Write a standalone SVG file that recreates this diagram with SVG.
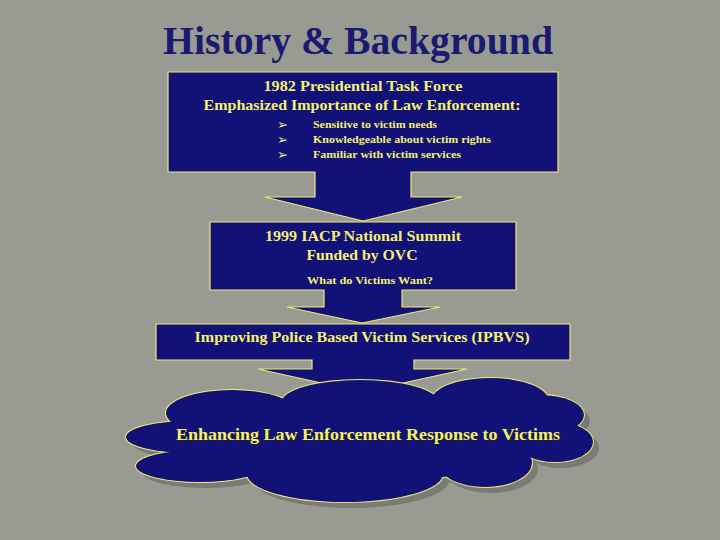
<svg xmlns="http://www.w3.org/2000/svg" width="720" height="540" viewBox="0 0 720 540">
<style>
.bg{fill:#999b93}
.box{fill:#111177;stroke:#f0ea70;stroke-width:1.2;stroke-linejoin:miter}
.t{font-family:"Liberation Serif","Times New Roman",serif;font-weight:bold;fill:#f5f070;text-anchor:middle}
.tl{font-family:"Liberation Serif","Times New Roman",serif;font-weight:bold;fill:#f5f070}
.bul{font-family:"DejaVu Sans",sans-serif;fill:#f5f070;font-size:13px}
.title{font-family:"Liberation Serif","Times New Roman",serif;font-weight:bold;fill:#1a1a70;font-size:40px;text-anchor:middle}
.lobeS{fill:#7a7b75}
.lobeO{fill:#111177;stroke:#f0ea70;stroke-width:2}
.lobeF{fill:#111177}
</style>
<defs>
<g id="lobes">
<ellipse cx="232" cy="413" rx="66" ry="23"/>
<ellipse cx="360" cy="402" rx="78" ry="22"/>
<ellipse cx="490" cy="400" rx="58" ry="22"/>
<ellipse cx="540" cy="415" rx="44" ry="20"/>
<ellipse cx="555" cy="442" rx="38" ry="20"/>
<ellipse cx="485" cy="463" rx="47" ry="24"/>
<ellipse cx="345" cy="474" rx="98" ry="28"/>
<ellipse cx="200" cy="466" rx="64" ry="16"/>
<ellipse cx="190" cy="437" rx="64" ry="16"/>
<ellipse cx="360" cy="440" rx="175" ry="42"/>
</g>
</defs>
<rect class="bg" x="0" y="0" width="720" height="540"/>
<g id="title">
<text class="title" x="358" y="54" textLength="390" lengthAdjust="spacingAndGlyphs">History &amp; Background</text>
</g>
<g id="node-1982">
<polygon class="box" points="168,72 558,72 558,172 411,172 411,197 462,197 363,221 265,197 315,197 315,172 168,172"/>
<text class="t" x="363" y="91" font-size="15" textLength="199" lengthAdjust="spacingAndGlyphs">1982 Presidential Task Force</text>
<text class="t" x="362" y="110" font-size="15" textLength="317" lengthAdjust="spacingAndGlyphs">Emphasized Importance of Law Enforcement:</text>
<text class="bul" x="277" y="129">➢</text>
<text class="bul" x="277" y="144">➢</text>
<text class="bul" x="277" y="159">➢</text>
<text class="tl" x="313" y="128" font-size="11" textLength="124" lengthAdjust="spacingAndGlyphs">Sensitive to victim needs</text>
<text class="tl" x="313" y="143" font-size="11" textLength="178" lengthAdjust="spacingAndGlyphs">Knowledgeable about victim rights</text>
<text class="tl" x="313" y="158" font-size="11" textLength="148" lengthAdjust="spacingAndGlyphs">Familiar with victim services</text>
</g>
<g id="node-1999">
<polygon class="box" points="210,222 516,222 516,290 402,290 402,307 440,307 362,323 287,307 324,307 324,290 210,290"/>
<text class="t" x="363" y="241" font-size="15" textLength="196" lengthAdjust="spacingAndGlyphs">1999 IACP National Summit</text>
<text class="t" x="362" y="260" font-size="15" textLength="111" lengthAdjust="spacingAndGlyphs">Funded by OVC</text>
<text class="t" x="370" y="284" font-size="11" textLength="126" lengthAdjust="spacingAndGlyphs">What do Victims Want?</text>
</g>
<g id="node-ipbvs">
<polygon class="box" points="156,324 570,324 570,360 414,360 414,369 467,369 362,392 258,369 312,369 312,360 156,360"/>
<text class="t" x="362" y="342" font-size="15" textLength="335" lengthAdjust="spacingAndGlyphs">Improving Police Based Victim Services (IPBVS)</text>
</g>
<g id="node-cloud">
<use href="#lobes" class="lobeS" transform="translate(6,6)"/>
<use href="#lobes" class="lobeO"/>
<use href="#lobes" class="lobeF"/>
<text x="369" y="441" font-family="Liberation Serif, serif" font-weight="bold" font-size="16.5" fill="#222222" text-anchor="middle" textLength="384" lengthAdjust="spacingAndGlyphs">Enhancing Law Enforcement Response to Victims</text>
<text class="t" x="368" y="440" font-size="16.5" textLength="384" lengthAdjust="spacingAndGlyphs">Enhancing Law Enforcement Response to Victims</text>
</g>
<g id="connectors"></g>
</svg>
